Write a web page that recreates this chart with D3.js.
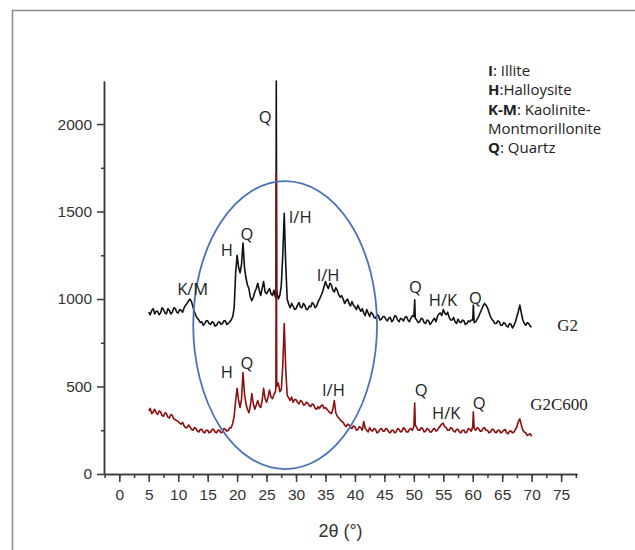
<!DOCTYPE html>
<html>
<head>
<meta charset="utf-8">
<script src="https://cdn.jsdelivr.net/npm/d3@7"></script>
<style>
  body { margin: 0; background: #fff; }
  svg { display: block; }
</style>
</head>
<body>
<div id="chart"></div>
<script>
// scan grid: 5 to 70 degrees, every 0.25
const startAngle = 5;
const stepAngle = 0.25;

// G2 intensities, one row per 5 degrees
const g2Counts = [
  925, 910, 935, 945, 915, 930, 930, 910, 920, 950, 940, 920, 915, 945, 935, 915, 925, 950, 945, 925,
  920, 940, 935, 925, 950, 965, 975, 990, 1000, 985, 955, 925, 905, 890, 880, 865, 870, 850, 860, 875,
  875, 860, 855, 870, 865, 845, 850, 865, 870, 855, 860, 875, 875, 855, 860, 870, 880, 900, 950, 1150,
  1250, 1180, 1150, 1200, 1320, 1180, 1120, 1080, 1060, 1010, 990, 1010, 1040, 1060, 1090, 1050, 1020, 1060, 1100, 1040,
  1030, 1045, 1060, 1030, 1020, 1050, 1010, 1040, 1000, 1020, 1080, 1250, 1490, 1200, 1000, 970, 950, 975, 960, 940,
  945, 965, 980, 955, 950, 975, 965, 940, 940, 960, 955, 980, 970, 950, 960, 985, 1000, 1020, 1040, 1070,
  1100, 1075, 1060, 1090, 1080, 1050, 1040, 1065, 1050, 1025, 1010, 1020, 1000, 975, 990, 1000, 975, 960, 985, 965,
  955, 940, 965, 945, 930, 945, 920, 905, 940, 920, 900, 925, 915, 895, 890, 910, 905, 880, 885, 900,
  900, 885, 875, 890, 895, 870, 880, 905, 900, 880, 870, 890, 885, 875, 895, 900, 880, 870, 890, 905,
  900, 890, 880, 865, 870, 890, 885, 865, 860, 880, 875, 855, 865, 880, 890, 870, 900, 915, 920, 905,
  940, 920, 910, 925, 895, 880, 880, 895, 870, 860, 885, 870, 865, 880, 875, 855, 860, 875, 870, 880,
  880, 865, 870, 885, 900, 920, 940, 960, 975, 965, 950, 925, 900, 885, 875, 860, 860, 875, 870, 850,
  850, 865, 860, 845, 840, 860, 855, 835, 850, 870, 900, 930, 965, 920, 880, 860, 850, 865, 860, 845,
  840
];

// G2C600 intensities
const g2c600Counts = [
  360, 375, 345, 355, 370, 350, 340, 360, 355, 335, 330, 350, 345, 325, 320, 340, 335, 315, 310, 305,
  300, 290, 285, 295, 275, 265, 265, 280, 270, 255, 250, 265, 260, 245, 240, 255, 255, 240, 235, 250,
  250, 235, 240, 255, 255, 240, 235, 250, 250, 235, 240, 260, 255, 245, 250, 265, 265, 290, 330, 420,
  490, 420, 380, 430, 580, 460, 400, 370, 350, 390, 460, 400, 370, 395, 420, 390, 380, 420, 490, 430,
  410, 440, 480, 440, 430, 455, 470, 500, 520, 470, 480, 620, 860, 600, 450, 435, 420, 440, 410, 425,
  425, 410, 400, 420, 415, 395, 395, 410, 405, 390, 385, 400, 395, 375, 370, 385, 375, 390, 395, 375,
  380, 370, 360, 350, 345, 370, 420, 350, 330, 320, 310, 300, 295, 280, 270, 285, 280, 265, 260, 275,
  270, 250, 255, 270, 265, 250, 300, 260, 250, 240, 265, 250, 245, 260, 255, 235, 240, 255, 260, 245,
  245, 260, 255, 240, 235, 250, 250, 235, 240, 260, 255, 240, 245, 265, 255, 240, 240, 255, 260, 250,
  270, 280, 265, 250, 250, 265, 260, 240, 245, 260, 255, 240, 240, 255, 260, 245, 250, 265, 275, 285,
  290, 270, 265, 250, 250, 265, 260, 245, 240, 255, 255, 240, 235, 250, 250, 235, 240, 260, 255, 245,
  270, 260, 250, 265, 260, 245, 245, 260, 265, 250, 250, 235, 240, 255, 255, 240, 235, 250, 250, 235,
  240, 250, 255, 235, 230, 245, 245, 235, 240, 255, 270, 300, 315, 280, 250, 240, 235, 220, 225, 230,
  215
];

// sharp quartz reflections [angle, counts]
const g2Spikes = [[26.58, 1040], [26.65, 2246], [26.72, 1060], [50.15, 995], [60.1, 965]];
const g2c600Spikes = [[26.58, 500], [26.65, 1727], [26.72, 540], [50.15, 405], [60.1, 355]];

// peak labels [text, angle, counts]
const g2Labels = [
  ["K/M", 12.45, 1023], ["Q", 24.75, 2006], ["H", 18.25, 1246], ["Q", 21.65, 1337],
  ["I/H", 30.7, 1434], ["I/H", 35.45, 1103], ["Q", 50.25, 1034], ["H/K", 54.95, 960],
  ["Q", 60.45, 971]
];
const g2c600Labels = [
  ["H", 18.25, 549], ["Q", 21.65, 600], ["I/H", 36.35, 446], ["Q", 51.25, 446],
  ["H/K", 55.5, 314], ["Q", 61.1, 371]
];
const seriesNames = [["G2", 74.35, 817], ["G2C600", 69.75, 366]];

// circled region [angle, counts, half width, half height]
const region = [28.15, 851, 15.6, 823];

const xMajor = d3.range(0, 76, 5);
const xMinor = d3.range(-2.5, 78, 2.5);
const yMajor = [0, 500, 1000, 1500, 2000];
const yMinor = [250, 750, 1250, 1750];

const legendLines = [["I", ": Illite"], ["H", ":Halloysite"], ["K-M", ": Kaolinite-"], ["", "Montmorillonite"], ["Q", ": Quartz"]];

const width = 635;
const height = 550;

window.onload = function() {
  drawChart();
};

function buildSeries(counts, spikes) {
  let pts = counts.map((c, i) => [startAngle + i * stepAngle, c]);
  pts = pts.concat(spikes);
  pts.sort((a, b) => a[0] - b[0]);
  return pts;
}

function drawChart() {
  let svg = d3.select("#chart")
    .append("svg")
      .attr("width", width)
      .attr("height", height);

  // page frame
  svg.append("rect")
    .attr("x", 12.5).attr("y", 10.5)
    .attr("width", 700).attr("height", 700)
    .attr("fill", "none")
    .attr("stroke", "#8a8a8a")
    .attr("stroke-width", 1.5);

  const x = d3.scaleLinear().domain([-2.6, 77.7]).range([104, 577]);
  const y = d3.scaleLinear().domain([0, 2246]).range([474, 81]);

  // minor ticks first
  svg.append("g")
    .attr("class", "axis")
    .attr("transform", "translate(0,474)")
    .call(d3.axisBottom(x).tickValues(xMinor).tickSize(4).tickSizeOuter(0).tickFormat(""));
  svg.append("g")
    .attr("class", "axis")
    .attr("transform", "translate(0,474)")
    .call(d3.axisBottom(x).tickValues(xMajor).tickSize(8).tickPadding(7).tickSizeOuter(0).tickFormat(d3.format("d")));

  svg.append("g")
    .attr("class", "axis")
    .attr("transform", "translate(104,0)")
    .call(d3.axisLeft(y).tickValues(yMinor).tickSize(3).tickSizeOuter(0).tickFormat(""));
  svg.append("g")
    .attr("class", "axis")
    .attr("transform", "translate(104,0)")
    .call(d3.axisLeft(y).tickValues(yMajor).tickSize(7).tickPadding(5).tickSizeOuter(0).tickFormat(d3.format("d")));

  svg.selectAll(".axis path, .axis line")
    .attr("stroke", "#3a3a3a")
    .attr("stroke-width", 1.5);
  svg.selectAll(".axis text")
    .attr("font-family", "'Liberation Sans', Arial, sans-serif")
    .attr("font-size", "15.5px")
    .attr("fill", "#333");

  // x title
  svg.append("text")
    .attr("x", 340.5)
    .attr("y", 537)
    .attr("text-anchor", "middle")
    .attr("font-family", "'Liberation Sans', Arial, sans-serif")
    .attr("font-size", "18px")
    .attr("fill", "#333")
    .text("2θ (°)");

  let line = d3.line()
    .x(d => x(d[0]))
    .y(d => y(d[1]));

  svg.append("path")
    .datum(buildSeries(g2Counts, g2Spikes))
    .attr("d", line)
    .attr("fill", "none")
    .attr("stroke", "#111")
    .attr("stroke-width", 1.6)
    .attr("stroke-linejoin", "round");

  svg.append("path")
    .datum(buildSeries(g2c600Counts, g2c600Spikes))
    .attr("d", line)
    .attr("fill", "none")
    .attr("stroke", "#8a1010")
    .attr("stroke-width", 1.6)
    .attr("stroke-linejoin", "round");

  // blue ellipse round the clay peaks
  svg.append("ellipse")
    .attr("cx", x(region[0]))
    .attr("cy", y(region[1]))
    .attr("rx", x(region[0] + region[2]) - x(region[0]))
    .attr("ry", y(region[1] - region[3]) - y(region[1]))
    .attr("fill", "none")
    .attr("stroke", "#4a72b8")
    .attr("stroke-width", 1.8);

  // peak labels
  svg.selectAll(".peak")
    .data(g2Labels.concat(g2c600Labels))
    .enter()
    .append("text")
      .attr("class", "peak")
      .attr("x", d => x(d[1]))
      .attr("y", d => y(d[2]))
      .attr("text-anchor", "middle")
      .attr("font-family", "'Open Sans', sans-serif")
      .attr("font-size", "16.5px")
      .attr("fill", "#222")
      .text(d => d[0]);

  svg.selectAll(".series-name")
    .data(seriesNames)
    .enter()
    .append("text")
      .attr("class", "series-name")
      .attr("x", d => x(d[1]))
      .attr("y", d => y(d[2]))
      .attr("font-family", "'Liberation Serif', 'Times New Roman', serif")
      .attr("font-size", "17px")
      .attr("fill", "#222")
      .text(d => d[0]);

  // legend
  let legend = svg.append("g")
    .attr("font-family", "'Open Sans', sans-serif")
    .attr("font-size", "15px")
    .attr("fill", "#222");
  legendLines.forEach((l, i) => {
    let row = legend.append("text")
      .attr("x", 488)
      .attr("y", 76 + i * 19.3);
    if (l[0] !== "") {
      row.append("tspan").attr("font-weight", "bold").text(l[0]);
    }
    row.append("tspan").text(l[1]);
  });
}
</script>
</body>
</html>
